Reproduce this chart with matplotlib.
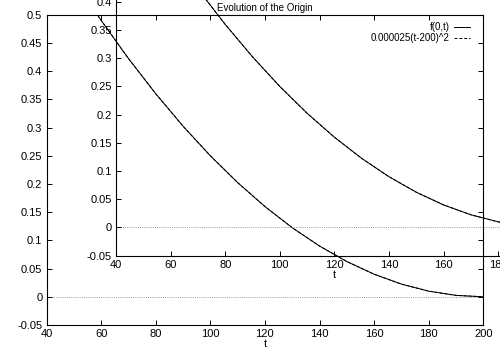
"""Evolution of the origin: gnuplot-style multiplot with an offset copy."""
import matplotlib
matplotlib.use("Agg")
import matplotlib.pyplot as plt

# values (t step 10)
t_vals = [40, 50, 60, 70, 80, 90, 100, 110, 120, 130, 140, 150, 160, 170, 180, 190, 200]
f_origin = [0.64, 0.5625, 0.49, 0.4225, 0.36, 0.3025, 0.25, 0.2025, 0.16, 0.1225,
            0.09, 0.0625, 0.04, 0.0225, 0.01, 0.0025, 0.0]
approx = [0.64, 0.5625, 0.49, 0.4225, 0.36, 0.3025, 0.25, 0.2025, 0.16, 0.1225,
          0.09, 0.0625, 0.04, 0.0225, 0.01, 0.0025, 0.0]

x_ticks = [40, 60, 80, 100, 120, 140, 160, 180, 200]
y_ticks = [-0.05, 0, 0.05, 0.1, 0.15, 0.2, 0.25, 0.3, 0.35, 0.4, 0.45, 0.5]
y_labels = ["-0.05", "0", "0.05", "0.1", "0.15", "0.2", "0.25", "0.3", "0.35", "0.4", "0.45", "0.5"]
title = "Evolution of the Origin"
labels = ["f(0,t)", "0.000025(t-200)^2"]

plt.rcParams["font.family"] = ["Liberation Sans", "DejaVu Sans"]
plt.rcParams["font.size"] = 8

W, H = 500, 350
fig = plt.figure(figsize=(5, 3.5), dpi=100)


def style(ax):
    ax.set_xlim(40, 200)
    ax.set_ylim(-0.05, 0.5)
    ax.set_xticks(x_ticks)
    ax.set_yticks(y_ticks)
    ax.set_yticklabels(y_labels)
    ax.tick_params(direction="in", length=3.5, width=0.7, pad=3,
                   top=True, right=True, labelsize=8, colors="black")
    for s in ax.spines.values():
        s.set_linewidth(0.8)
    ax.axhline(0, color="#9a9a9a", lw=0.7, ls=(0, (1, 1.2)), zorder=1)
    l1, = ax.plot(t_vals, f_origin, color="black", lw=0.7)
    l2, = ax.plot(t_vals, approx, color="black", lw=0.7, ls=(0, (3, 2)))
    ax.set_xlabel("t", labelpad=0)
    return l1, l2


# main plot (pixel box 46.5..483.3 x 14.7..325)
x0, x1, yt, yb = 46.5, 483.3, 14.7, 325.0
ax = fig.add_axes([x0 / W, 1 - yb / H, (x1 - x0) / W, (yb - yt) / H])
l1, l2 = style(ax)
ax.set_title(title, fontsize=7, pad=3)
ax.legend([l1, l2], labels, loc="upper right", frameon=False, markerfirst=False,
          bbox_to_anchor=(1 - 6 / (x1 - x0), 1),
          handlelength=1.55, handletextpad=0.5, labelspacing=0.1,
          borderaxespad=0.4, borderpad=0.4, fontsize=7)

# second copy of the same plot, shifted by the multiplot origin
dx, dy = 69.5, 69.3
ax2 = fig.add_axes([(x0 + dx) / W, 1 - (yb - dy) / H, (x1 - x0) / W, (yb - yt) / H])
ax2.patch.set_visible(False)
style(ax2)

fig.savefig("out.png", dpi=100)
